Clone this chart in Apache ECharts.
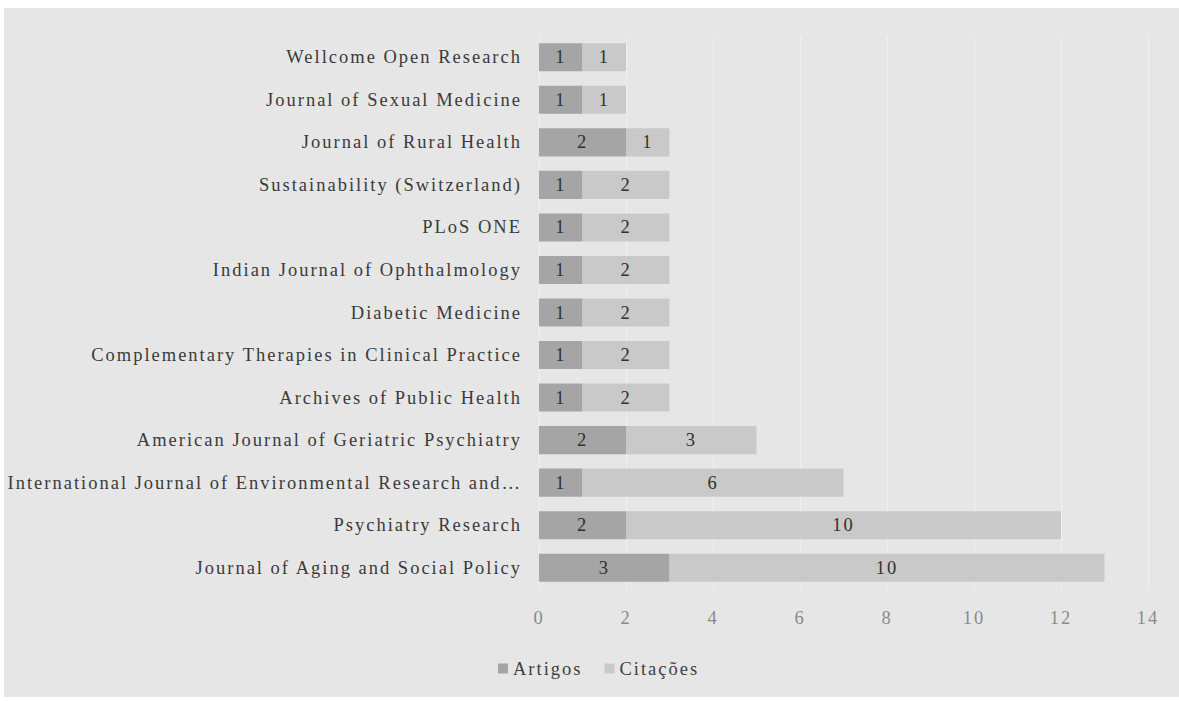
<!DOCTYPE html>
<html>
<head>
<meta charset="utf-8">
<script src="https://cdn.jsdelivr.net/npm/echarts@6/dist/echarts.min.js"></script>
<style>
  html, body { margin: 0; padding: 0; background: #ffffff; }
  #chart {
    position: absolute; left: 4px; top: 8px;
    width: 1175px; height: 689px;
    background: #e6e6e6;
  }
  /* the source chart has wide letter spacing on every text */
  #chart text { letter-spacing: 2px; }
</style>
</head>
<body>
<div id="chart"></div>
<script>
  // journals, bottom to top as the y axis draws them
  var journals = [
    'Journal of Aging and Social Policy',
    'Psychiatry Research',
    'International Journal of Environmental Research and Public Health',
    'American Journal of Geriatric Psychiatry',
    'Archives of Public Health',
    'Complementary Therapies in Clinical Practice',
    'Diabetic Medicine',
    'Indian Journal of Ophthalmology',
    'PLoS ONE',
    'Sustainability (Switzerland)',
    'Journal of Rural Health',
    'Journal of Sexual Medicine',
    'Wellcome Open Research'
  ]
  var artigos = [3, 2, 1, 2, 1, 1, 1, 1, 1, 1, 2, 1, 1]
  var citacoes = [10, 10, 6, 3, 2, 2, 2, 2, 2, 2, 1, 1, 1]
  var xTicks = [0, 2, 4, 6, 8, 10, 12, 14]

  var serif = '"Liberation Serif", "Times New Roman", serif'

  var myChart = echarts.init(document.getElementById('chart'), null, { renderer: 'svg' })
  myChart.setOption({
    animation: false,
    color: ['#a5a5a5', '#c9c9c9'],
    textStyle: { fontFamily: serif },
    grid: {
      left: 535,
      right: 31,
      top: 28,
      bottom: 108
    },
    legend: {
      data: ['Artigos', 'Citações'],
      left: 489,
      top: 646,
      itemWidth: 10,
      itemHeight: 10,
      itemGap: 36,
      icon: 'rect',
      textStyle: { fontFamily: serif, fontSize: 18.5, color: '#404040' }
    },
    xAxis: {
      type: 'value',
      min: xTicks[0],
      max: xTicks[xTicks.length - 1],
      interval: 2,
      axisLine: { show: false },
      axisTick: { show: false },
      splitLine: { lineStyle: { color: '#f0f0f0', width: 1 } },
      axisLabel: {
        margin: 19,
        fontFamily: serif,
        fontSize: 18.5,
        color: '#8a8a8a'
      }
    },
    yAxis: {
      type: 'category',
      data: journals,
      axisLine: { show: false },
      axisTick: { show: false },
      axisLabel: {
        margin: 17,
        fontFamily: serif,
        fontSize: 18.5,
        color: '#3a3a3a',
        formatter: function (v) {
          // cut long names like the original does
          return v.length > 52 ? v.slice(0, 51) + '…' : v
        }
      }
    },
    series: [
      {
        name: 'Artigos',
        type: 'bar',
        stack: 'total',
        barCategoryGap: '34%',
        data: artigos,
        label: { show: true, position: 'inside', fontFamily: serif, fontSize: 18.5, color: '#303030' }
      },
      {
        name: 'Citações',
        type: 'bar',
        stack: 'total',
        barCategoryGap: '34%',
        data: citacoes,
        label: { show: true, position: 'inside', fontFamily: serif, fontSize: 18.5, color: '#303030' }
      }
    ]
  })
</script>
</body>
</html>
